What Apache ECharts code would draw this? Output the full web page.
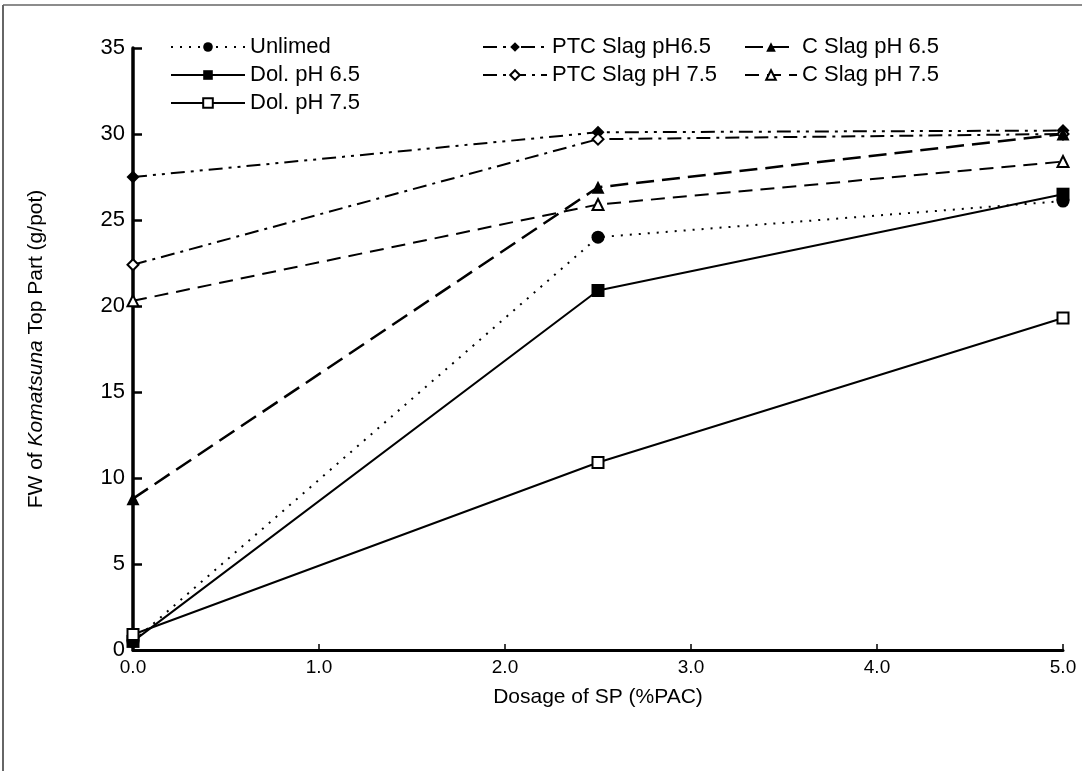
<!DOCTYPE html>
<html>
<head>
<meta charset="utf-8">
<script src="https://cdn.jsdelivr.net/npm/echarts@6/dist/echarts.min.js"></script>
<style>
  html, body { margin: 0; padding: 0; background: #fff; }
  #chart { width: 1082px; height: 771px; }
</style>
</head>
<body>
<div id="chart"></div>
<script>
var doses = [0, 2.5, 5];
var unlimed = [0.5, 24.0, 26.1];
var dol65 = [0.5, 20.9, 26.5];
var dol75 = [0.9, 10.9, 19.3];
var ptc65 = [27.5, 30.1, 30.2];
var ptc75 = [22.4, 29.7, 30.0];
var cslag65 = [8.8, 26.9, 30.0];
var cslag75 = [20.3, 25.9, 28.4];
var yTicks = [0, 5, 10, 15, 20, 25, 30, 35];

function pairs(vals) {
  return doses.map(function (d, i) { return [d, vals[i]]; });
}

var dom = document.getElementById('chart');
var myChart = echarts.init(dom);
var font = 'Liberation Sans, Arial, sans-serif';

function line(name, vals, dash, width, symbol, size, hollow) {
  return {
    name: name,
    type: 'line',
    data: pairs(vals),
    symbol: symbol,
    symbolSize: size,
    showAllSymbol: true,
    lineStyle: { color: '#000', width: width, type: dash },
    itemStyle: {
      color: hollow ? '#fff' : '#000',
      borderColor: '#000',
      borderWidth: hollow ? 2 : 0
    },
    emphasis: { disabled: true },
    animation: false
  };
}

var legendBase = {
  orient: 'vertical',
  itemHeight: 12,
  itemGap: 6,
  top: 31,
  textStyle: { fontFamily: font, fontSize: 22, color: '#000' }
};

var option = {
  backgroundColor: '#fff',
  animation: false,
  graphic: [
    { type: 'line', shape: { x1: 3, y1: 5, x2: 3, y2: 771 }, style: { stroke: '#333', lineWidth: 1.5 } },
    { type: 'line', shape: { x1: 3, y1: 5, x2: 1082, y2: 5 }, style: { stroke: '#666', lineWidth: 1.5 } }
  ],
  legend: [
    Object.assign({}, legendBase, { left: 165, itemWidth: 74, data: ['Unlimed', 'Dol. pH 6.5', 'Dol. pH 7.5'] }),
    Object.assign({}, legendBase, { left: 477, itemWidth: 64, data: ['PTC Slag pH6.5', 'PTC Slag pH 7.5'] }),
    Object.assign({}, legendBase, { left: 739, itemWidth: 52, data: ['C Slag pH 6.5', 'C Slag pH 7.5'] })
  ],
  grid: { left: 133, right: 19, top: 48, bottom: 121 },
  xAxis: {
    type: 'value',
    min: 0,
    max: 5,
    interval: 1,
    name: 'Dosage of SP (%PAC)',
    nameLocation: 'middle',
    nameGap: 37,
    nameTextStyle: { fontFamily: font, fontSize: 21, color: '#000' },
    axisLine: { lineStyle: { color: '#000', width: 3 } },
    axisTick: { inside: true, length: 6, lineStyle: { color: '#000', width: 1.5 } },
    splitLine: { show: false },
    axisLabel: {
      fontFamily: font, fontSize: 19, color: '#000', margin: 8,
      formatter: function (v) { return v.toFixed(1); }
    }
  },
  yAxis: {
    type: 'value',
    min: 0,
    max: 35,
    interval: 5,
    name: '{n|FW of }{i|Komatsuna}{n| Top Part (g/pot)}',
    nameLocation: 'middle',
    nameGap: 86,
    nameRotate: 90,
    nameTextStyle: {
      rich: {
        n: { fontFamily: font, fontSize: 21, color: '#000' },
        i: { fontFamily: font, fontSize: 21, color: '#000', fontStyle: 'italic' }
      }
    },
    axisLine: { lineStyle: { color: '#000', width: 3.5 } },
    axisTick: { inside: true, length: 9, lineStyle: { color: '#000', width: 2.5 } },
    splitLine: { show: false },
    axisLabel: {
      fontFamily: font, fontSize: 22, color: '#000', margin: 8,
      formatter: function (v) { return yTicks.indexOf(v) >= 0 ? String(v) : ''; }
    }
  },
  series: [
    line('Unlimed', unlimed, [2, 7], 2, 'circle', 13, false),
    line('Dol. pH 6.5', dol65, 'solid', 2, 'rect', 13, false),
    line('Dol. pH 7.5', dol75, 'solid', 2, 'rect', 11, true),
    line('PTC Slag pH6.5', ptc65, [14, 6, 3, 6, 3, 6], 2, 'diamond', 13, false),
    line('PTC Slag pH 7.5', ptc75, [14, 6, 3, 6], 2, 'diamond', 11, true),
    line('C Slag pH 6.5', cslag65, [18, 8], 2.5, 'triangle', 13, false),
    line('C Slag pH 7.5', cslag75, [14, 8], 2, 'triangle', 11, true)
  ]
};

if (option && typeof option === 'object') {
  myChart.setOption(option, true);
}
</script>
</body>
</html>
